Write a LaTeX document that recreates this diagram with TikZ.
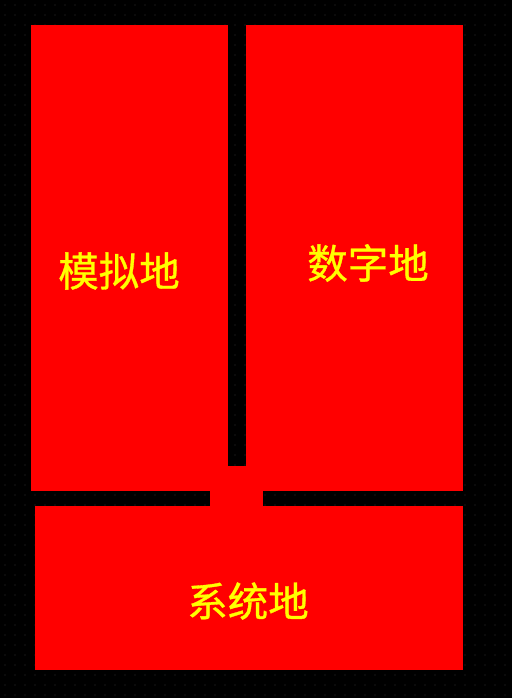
\documentclass[tikz,border=0pt]{standalone}
\usepackage{fontspec}
\newfontfamily\cjk[FakeBold=0.8]{Noto Sans CJK SC}
\definecolor{padred}{RGB}{255,0,0}
\definecolor{txtyellow}{RGB}{255,255,0}
\definecolor{griddot}{RGB}{48,48,48}
\begin{document}
\begin{tikzpicture}[x=1pt,y=-1pt,
  pad/.style={fill=padred,draw=none},
  lbl/.style={text=txtyellow,font=\cjk\fontsize{40.5}{42}\selectfont,inner sep=0pt,anchor=center}]
\useasboundingbox (0,0) rectangle (512,698);
\fill[black] (0,0) rectangle (512,698);
\foreach \x in {5,15,...,505}{
  \foreach \y in {5,15,...,695}{
    \fill[griddot] (\x,\y) circle[radius=0.6];
  }
}
% copper regions
\fill[pad] (31,25) rectangle (228,491);
\fill[pad] (246,25) rectangle (463,491);
\fill[pad] (227,466) rectangle (247,491);
\fill[pad] (210,490) rectangle (263,507);
\fill[pad] (35,506) rectangle (463,670);
% labels
\node[lbl] (analog) at (119,271) {模拟地};
\node[lbl] (digital) at (368,263) {数字地};
\node[lbl] (system) at (248,601) {系统地};
\end{tikzpicture}
\end{document}
